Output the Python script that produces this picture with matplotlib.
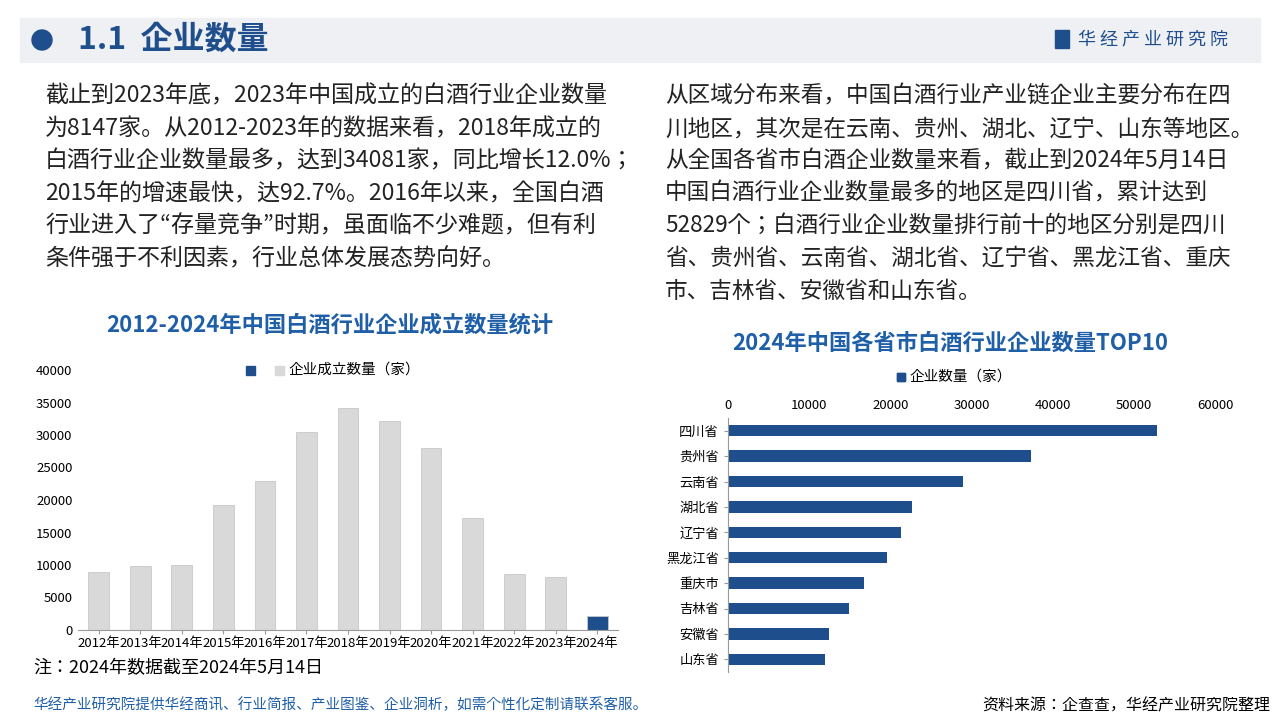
import matplotlib
matplotlib.use("Agg")
import matplotlib.pyplot as plt
from matplotlib.patches import Rectangle, Ellipse

plt.rcParams["font.family"] = ["Noto Sans CJK SC", "Noto Sans CJK JP", "Noto Sans CJK TC", "DejaVu Sans"]

years = ["2012年","2013年","2014年","2015年","2016年","2017年","2018年","2019年","2020年","2021年","2022年","2023年","2024年"]
counts = [9000, 9900, 10000, 19200, 22900, 30500, 34081, 32200, 28000, 17200, 8600, 8147, 2100]
provinces = ["四川省","贵州省","云南省","湖北省","辽宁省","黑龙江省","重庆市","吉林省","安徽省","山东省"]
prov_counts = [52829, 37300, 29000, 22700, 21300, 19600, 16800, 14900, 12500, 12000]
left_ticks = [0,5000,10000,15000,20000,25000,30000,35000,40000]
right_ticks = [0,10000,20000,30000,40000,50000,60000]

BLUE = "#1f4e8c"
TITLE_BLUE = "#1f5fa8"
GRAY = "#d9d9d9"

fig = plt.figure(figsize=(12.8, 7.2), dpi=100)
fig.patch.set_facecolor("white")

# header
fig.add_artist(Rectangle((20/1280, 1-62/720), 1240/1280, 44/720, transform=fig.transFigure, color="#eef0f4", zorder=0))
fig.add_artist(Ellipse((42/1280, 1-40/720), 20/1280, 20/720, transform=fig.transFigure, color=BLUE))
fig.text(78/1280, 1-40/720, "1.1  企业数量", fontsize=23, fontweight="bold", color=BLUE, va="center")
fig.add_artist(Rectangle((1055/1280, 1-48/720), 14/1280, 18/720, transform=fig.transFigure, color=BLUE))
fig.text(1078/1280, 1-39/720, "华 经 产 业 研 究 院", fontsize=13, color=BLUE, va="center")

left_lines = ["截止到2023年底，2023年中国成立的白酒行业企业数量",
              "为8147家。从2012-2023年的数据来看，2018年成立的",
              "白酒行业企业数量最多，达到34081家，同比增长12.0%；",
              "2015年的增速最快，达92.7%。2016年以来，全国白酒",
              "行业进入了“存量竞争”时期，虽面临不少难题，但有利",
              "条件强于不利因素，行业总体发展态势向好。"]
right_lines = ["从区域分布来看，中国白酒行业产业链企业主要分布在四",
               "川地区，其次是在云南、贵州、湖北、辽宁、山东等地区。",
               "从全国各省市白酒企业数量来看，截止到2024年5月14日",
               "中国白酒行业企业数量最多的地区是四川省，累计达到",
               "52829个；白酒行业企业数量排行前十的地区分别是四川",
               "省、贵州省、云南省、湖北省、辽宁省、黑龙江省、重庆",
               "市、吉林省、安徽省和山东省。"]
for i, t in enumerate(left_lines):
    fig.text(45/1280, 1-(96+32.5*i)/720, t, fontsize=16.6, va="center", color="#222222")
for i, t in enumerate(right_lines):
    fig.text(665/1280, 1-(96+32.5*i)/720, t, fontsize=16.3, va="center", color="#222222")

fig.text(330/1280, 1-325/720, "2012-2024年中国白酒行业企业成立数量统计", fontsize=16, fontweight="bold", color=TITLE_BLUE, ha="center", va="center")
fig.text(950/1280, 1-343/720, "2024年中国各省市白酒行业企业数量TOP10", fontsize=16, fontweight="bold", color=TITLE_BLUE, ha="center", va="center")

# left chart
ax = fig.add_axes([78/1280, 1-630/720, 540/1280, 260/720])
colors = [GRAY]*(len(years)-1) + [BLUE]
ax.bar(range(len(years)), counts, width=0.5, color=colors, edgecolor="#c8c8c8", linewidth=0.6)
ax.set_xlim(-0.5, len(years)-0.5)
ax.set_ylim(0, 40000)
ax.set_yticks(left_ticks)
ax.set_yticklabels([str(v) for v in left_ticks], fontsize=9.5)
ax.set_xticks(range(len(years)))
ax.set_xticklabels(years, fontsize=9.5)
ax.tick_params(axis="y", length=0, pad=4)
ax.tick_params(axis="x", length=3, color="#999999", pad=2)
for s in ["top","right","left"]:
    ax.spines[s].set_visible(False)
ax.spines["bottom"].set_color("#999999")
fig.add_artist(Rectangle((246/1280, 1-375/720), 9/1280, 9/720, transform=fig.transFigure, color=BLUE))
fig.add_artist(Rectangle((275/1280, 1-375/720), 9/1280, 9/720, transform=fig.transFigure, color=GRAY))
fig.text(288/1280, 1-370/720, "企业成立数量（家）", fontsize=10.5, va="center")
fig.text(33/1280, 1-668/720, "注：2024年数据截至2024年5月14日", fontsize=13, va="center")

# right chart
ax2 = fig.add_axes([728/1280, 1-672/720, 487/1280, 254/720])
ax2.barh(range(len(provinces)), prov_counts, height=0.45, color=BLUE)
ax2.set_ylim(len(provinces)-0.5, -0.5)
ax2.set_xlim(0, 60000)
ax2.set_xticks(right_ticks)
ax2.set_xticklabels([str(v) for v in right_ticks], fontsize=9.5)
ax2.xaxis.tick_top()
ax2.set_yticks(range(len(provinces)))
ax2.set_yticklabels(provinces, fontsize=9.5)
ax2.tick_params(axis="x", length=0, pad=4)
ax2.tick_params(axis="y", length=3, color="#999999")
for s in ["top","right","bottom"]:
    ax2.spines[s].set_visible(False)
ax2.spines["left"].set_color("#999999")
fig.add_artist(Rectangle((897/1280, 1-381/720), 8/1280, 8/720, transform=fig.transFigure, color=BLUE))
fig.add_artist(Rectangle((897/1280, 1-381/720), 8/1280, 8/720, transform=fig.transFigure, color=BLUE))
fig.text(909/1280, 1-377/720, "企业数量（家）", fontsize=10.5, va="center")

fig.text(33/1280, 1-705/720, "华经产业研究院提供华经商讯、行业简报、产业图鉴、企业洞析，如需个性化定制请联系客服。", fontsize=10.5, color=TITLE_BLUE, va="center")
fig.text(1270/1280, 1-706/720, "资料来源：企查查，华经产业研究院整理", fontsize=11.5, ha="right", va="center")

fig.savefig("out.png", dpi=100)
